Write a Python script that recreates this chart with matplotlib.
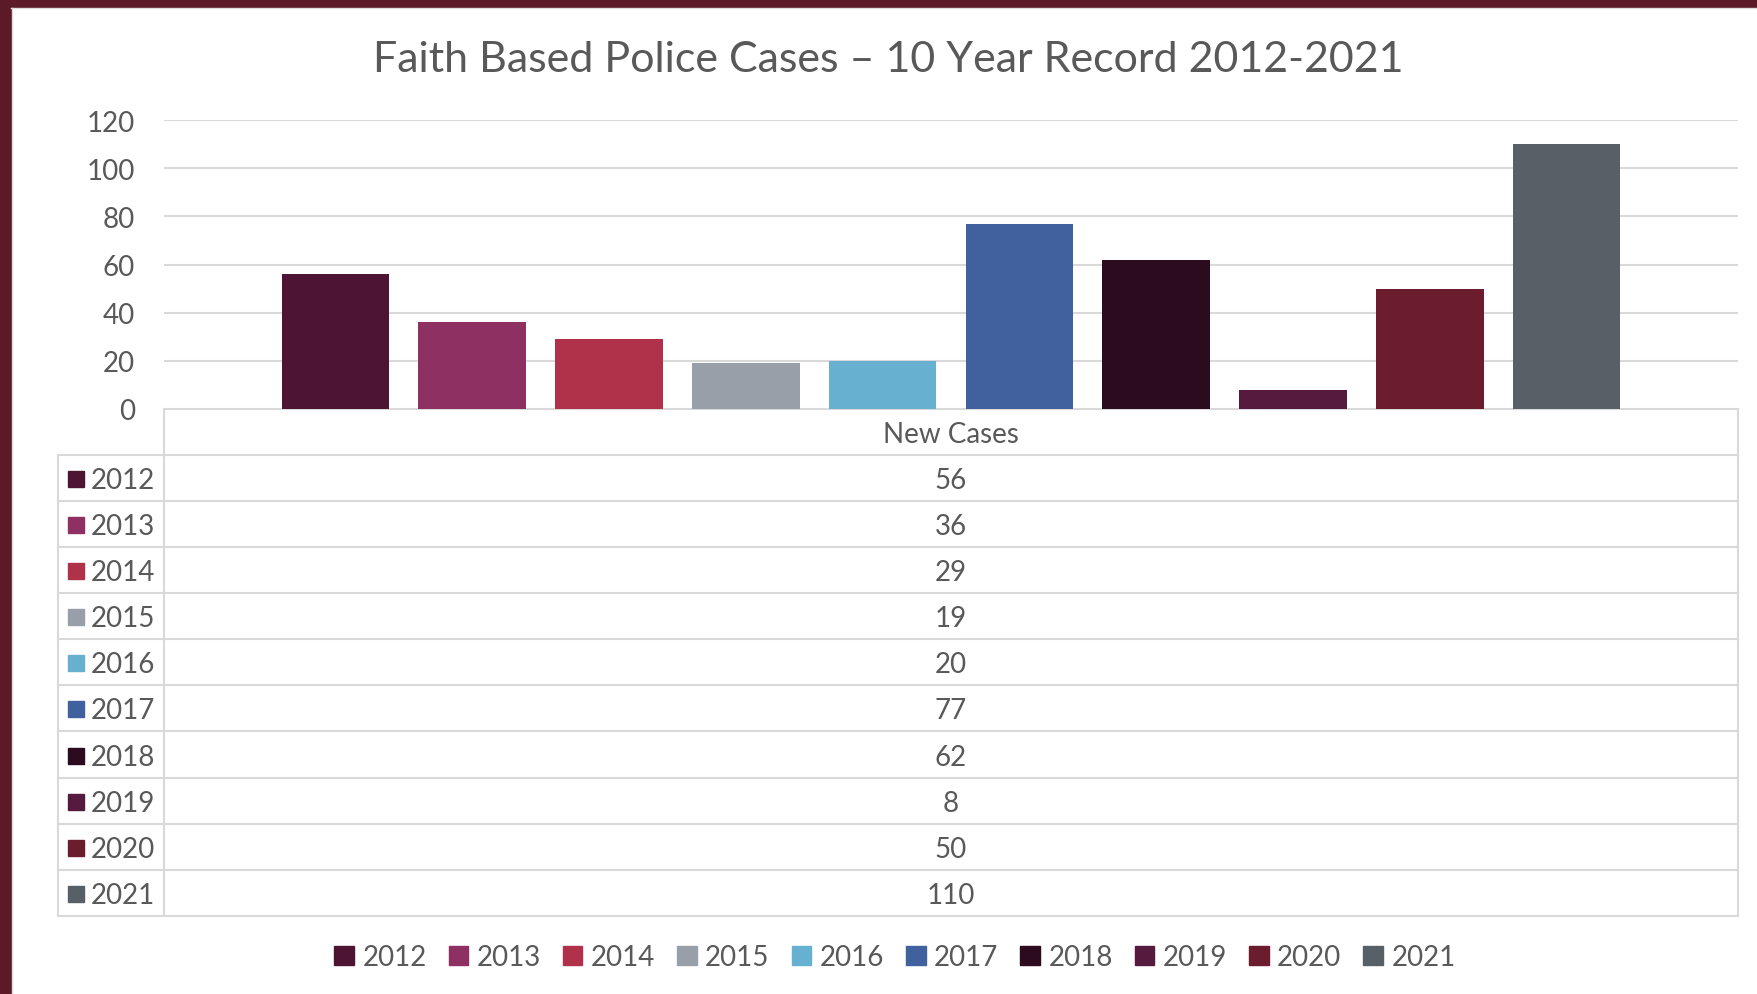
import matplotlib.pyplot as plt
from matplotlib.patches import Rectangle, Patch

# Chart data
years = ['2012', '2013', '2014', '2015', '2016', '2017', '2018', '2019', '2020', '2021']
cases = [56, 36, 29, 19, 20, 77, 62, 8, 50, 110]
colors = ['#4E1433', '#8E3062', '#B0314A', '#989FA8', '#67B0CF',
          '#40619E', '#2D0B1F', '#561A3E', '#6B1C2D', '#575F67']
series_label = 'New Cases'
title = 'Faith Based Police Cases – 10 Year Record 2012-2021'
y_ticks = [0, 20, 40, 60, 80, 100, 120]

# Styles
text_color = '#595959'
grid_color = '#D9D9D9'
border_color = '#5C1A28'
font_size = 20

plt.rcParams['font.family'] = ['Lato', 'DejaVu Sans']

W, H = 1758, 995
fig = plt.figure(figsize=(W / 100, H / 100), dpi=100)

# Page overlay in pixel coordinates (border + data table)
bg = fig.add_axes([0, 0, 1, 1])
bg.set_xlim(0, W)
bg.set_ylim(H, 0)
bg.axis('off')
bg.add_patch(Rectangle((0, 0), 11, H, color=border_color))
bg.add_patch(Rectangle((0, 0), W, 8, color=border_color))
bg.plot([11, W], [9, 9], color='#DDDDDD', lw=1)
bg.plot([12, 12], [9, H], color='#DDDDDD', lw=1)

# Plot area
px_left, px_right = 164, 1738
px_top, px_zero = 121, 410
ax = fig.add_axes([px_left / W, 1 - px_zero / H,
                   (px_right - px_left) / W, (px_zero - px_top) / H])
ax.bar(range(len(cases)), cases, width=0.787, color=colors, zorder=3)
ax.set_xlim(-1.254, len(cases) - 1 + 1.254)
ax.set_ylim(0, 120)
ax.set_yticks(y_ticks)
ax.set_xticks([])
ax.yaxis.grid(True, color=grid_color, lw=1.5)
ax.set_axisbelow(True)
for s in ax.spines.values():
    s.set_visible(False)
ax.tick_params(axis='y', length=0, pad=21, labelsize=font_size, labelcolor=text_color)

# Data table below the plot
row_h = 46.07
tab_left, label_right = 58, px_left
n_rows = len(years) + 1
tab_bottom = px_zero + n_rows * row_h
line_kw = dict(color=grid_color, lw=1.5)

bg.plot([label_right, px_right], [px_zero, px_zero], **line_kw)
for k in range(1, n_rows + 1):
    y = px_zero + k * row_h
    bg.plot([tab_left, px_right], [y, y], **line_kw)
bg.plot([tab_left, tab_left], [px_zero + row_h, tab_bottom], **line_kw)
bg.plot([label_right, label_right], [px_zero, tab_bottom], **line_kw)
bg.plot([px_right, px_right], [px_zero, tab_bottom], **line_kw)

value_x = (label_right + px_right) / 2
bg.text(value_x, px_zero + row_h / 2 + 2, series_label, ha='center', va='center',
        fontsize=font_size, color=text_color)
for i, (yr, val, c) in enumerate(zip(years, cases, colors)):
    yc = px_zero + (i + 1.5) * row_h + 2
    bg.add_patch(Rectangle((68, yc - 9), 16, 16, color=c))
    bg.text(91, yc, yr, ha='left', va='center', fontsize=font_size, color=text_color)
    bg.text(value_x, yc, str(val), ha='center', va='center',
            fontsize=font_size, color=text_color)

# Title
fig.text(888 / W, 1 - 60 / H, title, ha='center', va='center',
         fontsize=31, color=text_color)

# Legend
handles = [Patch(color=c, label=yr) for yr, c in zip(years, colors)]
fig.legend(handles=handles, loc='center', bbox_to_anchor=(895 / W, 1 - 958 / H),
           ncol=len(years), frameon=False, fontsize=font_size, labelcolor=text_color,
           handlelength=0.7, handleheight=0.7, handletextpad=0.3, columnspacing=0.8)

fig.savefig('out.png', dpi=100)
